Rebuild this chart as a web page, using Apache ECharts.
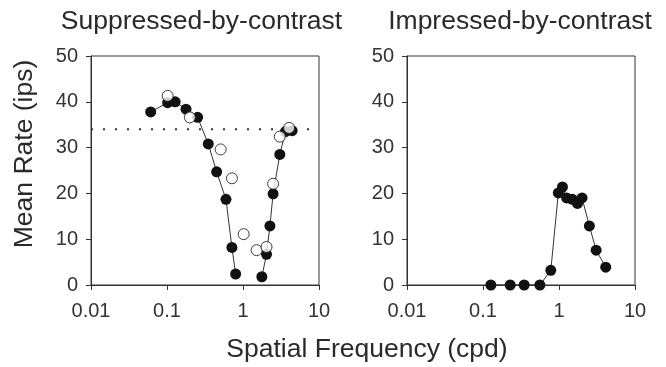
<!DOCTYPE html>
<html><head><meta charset="utf-8">
<script src="https://cdn.jsdelivr.net/npm/echarts@6/dist/echarts.min.js"></script>
<style>html,body{margin:0;padding:0;background:#fff}#c{width:666px;height:367px}</style>
</head><body><div id="c"></div>
<script>
// Suppressed-by-contrast: filled symbols (connected), open symbols
const supFilledFreq = [0.061, 0.102, 0.128, 0.178, 0.253, 0.349, 0.45, 0.597, 0.715, 0.80, null, 1.77, 2.04, 2.26, 2.49, 3.05, 3.62, 4.43];
const supFilledRate = [37.8, 39.8, 40.0, 38.4, 36.6, 30.8, 24.7, 18.7, 8.2, 2.4, null, 1.8, 6.7, 12.9, 19.9, 28.5, 33.5, 33.7];
const supOpenFreq = [0.102, 0.20, 0.508, 0.715, 1.02, 1.51, 2.04, 2.49, 3.05, 4.04];
const supOpenRate = [41.3, 36.6, 29.6, 23.3, 11.1, 7.6, 8.3, 22.1, 32.4, 34.3];
const criterionRate = 34.0;
// Impressed-by-contrast
const impFreq = [0.127, 0.228, 0.348, 0.56, 0.78, 0.98, 1.11, 1.26, 1.50, 1.75, 2.01, 2.51, 3.08, 4.12];
const impRate = [0, 0, 0, 0, 3.2, 20.1, 21.4, 19.0, 18.7, 17.8, 19.0, 12.9, 7.6, 3.9];
const xTicks = [0.01, 0.1, 1, 10];
const yTicks = [0, 10, 20, 30, 40, 50];
const titles = ['Suppressed-by-contrast', 'Impressed-by-contrast'];
const xName = 'Spatial Frequency (cpd)';
const yName = 'Mean Rate (ips)';

const pairs = (xs, ys) => xs.map((x, i) => (x === null ? null : [x, ys[i]]));
const FONT = 'Liberation Sans, Arial, sans-serif';
const AX = '#333';
const BIG = 26.5;

function xAxis(gi) {
  return {
    type: 'log', logBase: 10, min: xTicks[0], max: xTicks[xTicks.length - 1], gridIndex: gi,
    axisLine: {show: true, lineStyle: {color: AX, width: 1}},
    axisTick: {show: true, length: 5, lineStyle: {color: AX}},
    minorTick: {show: false}, splitLine: {show: false},
    axisLabel: {margin: 16, fontSize: 20, color: '#333', fontFamily: FONT,
      formatter: v => { const t = xTicks.find(k => Math.abs(k - v) / k < 1e-6); return t === undefined ? '' : String(t); }}
  };
}
function yAxis(gi) {
  return {
    type: 'value', min: yTicks[0], max: yTicks[yTicks.length - 1], interval: 10, gridIndex: gi,
    axisLine: {show: true, lineStyle: {color: AX, width: 1}},
    axisTick: {show: true, length: 5, lineStyle: {color: AX}},
    splitLine: {show: false},
    axisLabel: {margin: 13, fontSize: 20, color: '#333', fontFamily: FONT}
  };
}
function txt(s, x, y, rot) {
  return {type: 'text', x: x, y: y, rotation: rot || 0,
    style: {text: s, fontSize: BIG, fontFamily: FONT, fill: '#2a2a2a', align: 'center', verticalAlign: 'middle'}};
}
const grid = {show: true, borderColor: AX, borderWidth: 1, backgroundColor: 'transparent'};
const chart = echarts.init(document.getElementById('c'), null, {renderer: 'canvas'});
chart.setOption({
  animation: false,
  graphic: [
    txt(titles[0], 201.5, 22),
    txt(titles[1], 520, 22),
    txt(xName, 367, 350),
    txt(yName, 25, 154, Math.PI / 2)
  ],
  grid: [
    Object.assign({left: 91, top: 56, width: 228, height: 229}, grid),
    Object.assign({left: 407, top: 56, width: 228, height: 229}, grid)
  ],
  xAxis: [xAxis(0), xAxis(1)],
  yAxis: [yAxis(0), yAxis(1)],
  series: [
    {type: 'line', xAxisIndex: 0, yAxisIndex: 0, data: [[xTicks[0], criterionRate], [xTicks[xTicks.length - 1], criterionRate]],
      symbol: 'none', lineStyle: {color: '#333', width: 2, type: [2, 10]}, z: 1},
    {type: 'line', xAxisIndex: 0, yAxisIndex: 0, data: pairs(supFilledFreq, supFilledRate), connectNulls: false,
      symbol: 'circle', symbolSize: 11, itemStyle: {color: '#111'}, lineStyle: {color: '#333', width: 1}, z: 3},
    {type: 'scatter', xAxisIndex: 0, yAxisIndex: 0, data: pairs(supOpenFreq, supOpenRate),
      symbol: 'circle', symbolSize: 11, itemStyle: {color: '#fff', borderColor: '#111', borderWidth: 1}, z: 4},
    {type: 'line', xAxisIndex: 1, yAxisIndex: 1, data: pairs(impFreq, impRate),
      symbol: 'circle', symbolSize: 11, itemStyle: {color: '#111'}, lineStyle: {color: '#333', width: 1}, z: 3}
  ]
});
</script></body></html>
